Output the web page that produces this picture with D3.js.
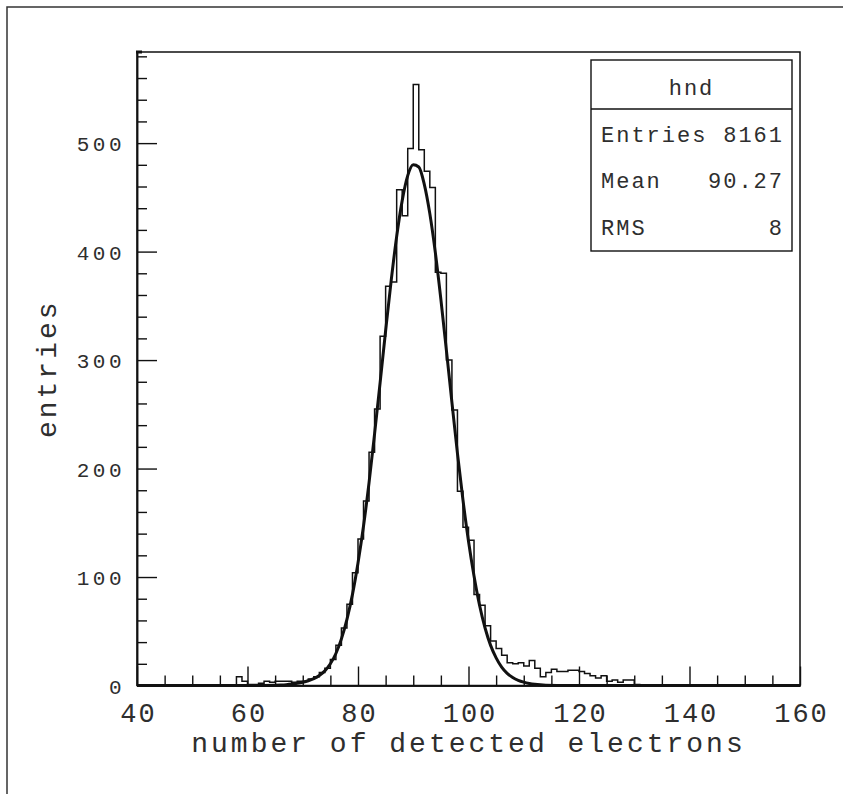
<!DOCTYPE html>
<html><head><meta charset="utf-8">
<script src="https://cdn.jsdelivr.net/npm/d3@7"></script>
<style>html,body{margin:0;padding:0;background:#fff;} svg{display:block;}</style>
</head><body>
<svg id="chart" width="843" height="794"></svg>
<script>
// ---------------- data ----------------
const histLow = 40;          // lower edge of first bin
const binWidth = 1;
const binCounts = [
  0,0,0,0,0,0,0,0,0,0,            // 40-49
  0,0,0,0,0,0,0,0,8,4,            // 50-59
  1,1,2,4,3,4,4,4,3,4,            // 60-69
  4,6,8,12,16,24,37,53,75,104,    // 70-79
  135,170,215,255,322,368,372,457,433,495, // 80-89
  554,494,474,459,381,380,300,254,179,146, // 90-99
  134,84,74,55,41,34,28,21,20,21,  // 100-109
  18,23,16,8,12,15,13,13,14,14,    // 110-119
  13,11,9,7,9,4,5,3,5,5,           // 120-129
  1,0,0,0,0,0,0,0,0,0,             // 130-139
  0,0,0,0,0,0,0,0,0,0,             // 140-149
  0,0,0,0,0,0,0,0,0,0              // 150-159
];
const fitX = [40,60,63,65,66,67,68,69,70,71,72,73,74,75,76,77,78,79,80,81,82,83,84,85,86,87,88,89,90,
  91,92,93,94,95,96,97,98,99,100,101,102,103,104,105,106,107,108,109,110,111,112,113,114,116,120,160];
const fitY = [0,0,0.1,0.3,0.5,0.8,1.3,2.0,3.0,4.4,6.4,9.3,13.5,20,29.5,43,61,84,113,147,187,232,279,327,373,414,447,470,480,
  478,462,435,399,356,309,261,214,171,133,101,74,53,37,25.5,17,11.2,7.4,4.8,3.1,1.9,1.1,0.6,0.3,0.1,0,0];
const xDomain = [40, 160];
const yDomain = [0, 584];
const xMajorTicks = [40,60,80,100,120,140,160];
const yMajorTicks = [0,100,200,300,400,500];
const statsTitle = "hnd";
const statsLabels = ["Entries","Mean","RMS"];
const statsValues = ["8161","90.27","8"];
const xTitle = "number of detected electrons";
const yTitle = "entries";

// ---------------- layout ----------------
const svg = d3.select("#chart");
const L = 137, R = 800, T = 52, B = 685.5;
const ink = "#111";
const txt = "#2e2e2e";
const font = "'Liberation Mono', 'Courier New', monospace";

// outer pad frame
svg.append("rect").attr("x",7).attr("y",7).attr("width",900).attr("height",900)
  .attr("fill","none").attr("stroke","#333").attr("stroke-width",1.5);

const x = d3.scaleLinear().domain(xDomain).range([L, R]);
const y = d3.scaleLinear().domain(yDomain).range([B, T]);

// frame
svg.append("rect").attr("x",L).attr("y",T).attr("width",R-L).attr("height",B-T)
  .attr("fill","none").attr("stroke",ink).attr("stroke-width",1.5);

// minor ticks
const xMinor = d3.range(xDomain[0], xDomain[1]+0.01, 5).filter(v => !xMajorTicks.includes(v));
const yMinor = d3.range(0, yDomain[1], 20).filter(v => !yMajorTicks.includes(v));

const gxMinor = svg.append("g").attr("transform",`translate(0,${B})`)
  .call(d3.axisBottom(x).tickValues(xMinor).tickSizeInner(-10).tickSizeOuter(0).tickFormat(""));
const gx = svg.append("g").attr("transform",`translate(0,${B})`)
  .call(d3.axisBottom(x).tickValues(xMajorTicks).tickSizeInner(-19).tickSizeOuter(0).tickFormat(d3.format("d")));
const gyMinor = svg.append("g").attr("transform",`translate(${L},0)`)
  .call(d3.axisLeft(y).tickValues(yMinor).tickSizeInner(-10).tickSizeOuter(0).tickFormat(""));
const gy = svg.append("g").attr("transform",`translate(${L},0)`)
  .call(d3.axisLeft(y).tickValues(yMajorTicks).tickSizeInner(-20).tickSizeOuter(0).tickFormat(d3.format("d")));

[gxMinor,gx,gyMinor,gy].forEach(g=>{
  g.selectAll("line").attr("stroke",ink).attr("stroke-width",1.4);
  g.select(".domain").attr("stroke",ink).attr("stroke-width",1.5);
});
gx.selectAll("text").attr("y",36.5).attr("dy",null)
  .style("font-family",font).style("font-size","27px").style("letter-spacing","2px")
  .attr("fill",txt).attr("dx","1px");
gy.selectAll("text").attr("x",-12).attr("dy","0.36em")
  .style("font-family",font).style("font-size","21px").style("letter-spacing","3.5px")
  .attr("fill",txt);

// corner mark at top-left of frame
svg.append("rect").attr("x",L-1).attr("y",T-1.5).attr("width",6).attr("height",3).attr("fill",ink);

// histogram (step outline)
const pts = [];
binCounts.forEach((c,i)=>{ pts.push([histLow+i*binWidth, c]); });
pts.push([histLow+binCounts.length*binWidth, 0]);
const step = d3.line().x(d=>x(d[0])).y(d=>y(d[1])).curve(d3.curveStepAfter);
svg.append("path").attr("d", step([[histLow,0], ...pts]))
  .attr("fill","none").attr("stroke",ink).attr("stroke-width",1.5);

// fit curve
const fitLine = d3.line().x((d,i)=>x(fitX[i])).y(d=>y(d)).curve(d3.curveMonotoneX);
svg.append("path").attr("d", fitLine(fitY))
  .attr("fill","none").attr("stroke",ink).attr("stroke-width",3);

// axis titles
svg.append("text").attr("x",(L+R)/2).attr("y",752).attr("text-anchor","middle")
  .style("font-family",font).style("font-size","28px").style("letter-spacing","3px")
  .attr("fill",txt).text(xTitle);
svg.append("text").attr("transform",`translate(56,${(T+B)/2}) rotate(-90)`).attr("text-anchor","middle")
  .style("font-family",font).style("font-size","28px").style("letter-spacing","3px")
  .attr("fill",txt).text(yTitle);

// stats box
const sb = {x0:591, y0:60, x1:792, y1:251, yh:109};
svg.append("rect").attr("x",sb.x0).attr("y",sb.y0).attr("width",sb.x1-sb.x0).attr("height",sb.y1-sb.y0)
  .attr("fill","#fff").attr("stroke",ink).attr("stroke-width",1.4);
svg.append("line").attr("x1",sb.x0).attr("x2",sb.x1).attr("y1",sb.yh).attr("y2",sb.yh)
  .attr("stroke",ink).attr("stroke-width",1.4);
svg.append("text").attr("x",(sb.x0+sb.x1)/2).attr("y",95).attr("text-anchor","middle")
  .style("font-family",font).style("font-size","22px").style("letter-spacing","2px")
  .attr("fill",txt).text(statsTitle);
const rowY = [142,188,235];
statsLabels.forEach((lab,i)=>{
  svg.append("text").attr("x",601).attr("y",rowY[i])
    .style("font-family",font).style("font-size","22px").style("letter-spacing","2px")
    .attr("fill",txt).text(lab);
  svg.append("text").attr("x",784).attr("y",rowY[i]).attr("text-anchor","end")
    .style("font-family",font).style("font-size","22px").style("letter-spacing","2px")
    .attr("fill",txt).text(statsValues[i]);
});
</script>
</body></html>
